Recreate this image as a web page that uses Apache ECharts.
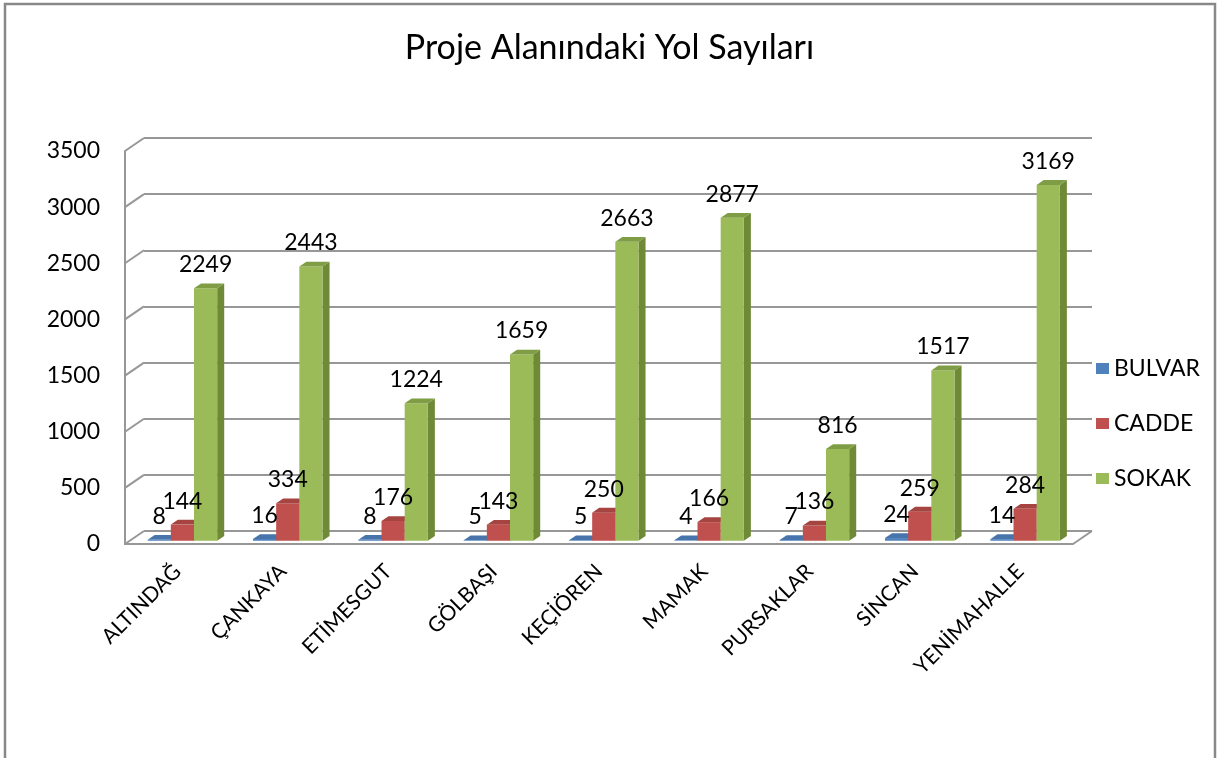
<!DOCTYPE html>
<html>
<head>
<meta charset="utf-8">
<script src="https://cdn.jsdelivr.net/npm/echarts@6/dist/echarts.min.js"></script>
<style>
  html, body { margin: 0; padding: 0; background: #fff; }
  #chart { width: 1219px; height: 758px; }
</style>
</head>
<body>
<div id="chart"></div>
<script>
// District names and road counts per road type
const categories = ['ALTINDAĞ', 'ÇANKAYA', 'ETİMESGUT', 'GÖLBAŞI', 'KEÇİÖREN', 'MAMAK', 'PURSAKLAR', 'SİNCAN', 'YENİMAHALLE'];
const seriesNames = ['BULVAR', 'CADDE', 'SOKAK'];
const bulvar = [8, 16, 8, 5, 5, 4, 7, 24, 14];
const cadde = [144, 334, 176, 143, 250, 166, 136, 259, 284];
const sokak = [2249, 2443, 1224, 1659, 2663, 2877, 816, 1517, 3169];
const yTicks = [0, 500, 1000, 1500, 2000, 2500, 3000, 3500];

const FONT = 'Lato';
// wall depth (front plane -> back plane) in pixels
const DEPTH_X = 19, DEPTH_Y = -13;
const GRID_COLOR = '#979797';

// face colours: front, side, top
const palettes = [
  { front: '#4F81BD', side: '#3A6595', top: '#4674AB' },
  { front: '#C0504D', side: '#8E3A38', top: '#A54441' },
  { front: '#9BBB59', side: '#6F8A36', top: '#7E9D44' }
];

function barRenderer(si) {
  const pal = palettes[si];
  return function (params, api) {
    const cat = api.value(0);
    const val = api.value(1);
    const base = api.coord([cat, 0]);
    const top = api.coord([cat, val]);
    const catW = api.size([1, 0])[0];
    const bw = catW * 0.22;
    const fdx = DEPTH_X * 0.25, fdy = DEPTH_Y * 0.25;
    const ddx = DEPTH_X * 0.37, ddy = DEPTH_Y * 0.37;
    const x0 = base[0] - 1.5 * bw + si * bw + fdx;
    const yb = base[1] + fdy;
    const yt = top[1] + fdy;
    return {
      type: 'group',
      children: [
        {
          type: 'polygon',
          shape: { points: [[x0 + bw, yt], [x0 + bw + ddx, yt + ddy], [x0 + bw + ddx, yb + ddy], [x0 + bw, yb]] },
          style: { fill: pal.side }
        },
        {
          type: 'rect',
          shape: { x: x0, y: yt, width: bw, height: Math.max(yb - yt, 0.5) },
          style: { fill: pal.front }
        },
        {
          type: 'polygon',
          shape: { points: [[x0, yt], [x0 + ddx, yt + ddy], [x0 + bw + ddx, yt + ddy], [x0 + bw, yt]] },
          style: { fill: pal.top }
        },
        {
          type: 'text',
          z2: 100,
          style: {
            x: x0 + bw / 2,
            y: yt - 12,
            text: String(val),
            align: 'center',
            verticalAlign: 'bottom',
            fill: '#000',
            font: '23px ' + FONT
          }
        }
      ]
    };
  };
}

function wallRenderer(params, api) {
  const v = api.value(0);
  const cs = params.coordSys;
  const y = api.coord([0, v])[1];
  const children = [{
    type: 'line',
    shape: { x1: cs.x, y1: y, x2: cs.x + DEPTH_X, y2: y + DEPTH_Y },
    style: { stroke: GRID_COLOR, lineWidth: 2 }
  }];
  if (v === 0) {
    // right edge of the floor
    children.push({
      type: 'line',
      shape: { x1: cs.x + cs.width, y1: y, x2: cs.x + cs.width + DEPTH_X, y2: y + DEPTH_Y },
      style: { stroke: GRID_COLOR, lineWidth: 2 }
    });
  }
  return { type: 'group', children: children };
}

const seriesData = [bulvar, cadde, sokak];

const chart = echarts.init(document.getElementById('chart'), null, { renderer: 'canvas' });

chart.setOption({
  animation: false,
  backgroundColor: '#fff',
  title: {
    text: 'Proje Alanındaki Yol Sayıları',
    left: 'center',
    top: 26,
    textStyle: { fontFamily: FONT, fontSize: 34, fontWeight: 'normal', color: '#000' }
  },
  legend: {
    orient: 'vertical',
    left: 1091,
    top: 352,
    icon: 'rect',
    itemWidth: 13,
    itemHeight: 11,
    itemGap: 32,
    data: seriesNames,
    textStyle: { fontFamily: FONT, fontSize: 23, lineHeight: 22, color: '#000' }
  },
  graphic: [{
    type: 'rect',
    shape: { x: 5, y: 4, width: 1210, height: 800 },
    style: { fill: 'none', stroke: '#888', lineWidth: 2.5 },
    silent: true
  }],
  grid: [
    // back wall
    { left: 144, top: 138, width: 948, height: 393 },
    // front plane
    { left: 125, top: 151, width: 948, height: 393 }
  ],
  xAxis: [
    { gridIndex: 0, type: 'category', data: categories, show: false },
    {
      gridIndex: 1, type: 'category', data: categories,
      axisLine: { show: true, lineStyle: { color: GRID_COLOR, width: 2 } },
      axisTick: { show: false },
      axisLabel: { rotate: 45, margin: 24, interval: 0, fontFamily: FONT, fontSize: 21, color: '#000' }
    }
  ],
  yAxis: [
    {
      gridIndex: 0, type: 'value', min: 0, max: 3500, interval: 500,
      axisLine: { show: false }, axisTick: { show: false }, axisLabel: { show: false },
      splitLine: { show: true, lineStyle: { color: GRID_COLOR, width: 2 } }
    },
    {
      gridIndex: 1, type: 'value', min: 0, max: 3500, interval: 500,
      axisLine: { show: true, lineStyle: { color: GRID_COLOR, width: 2 } },
      axisTick: { show: false },
      splitLine: { show: false },
      axisLabel: { margin: 25, fontFamily: FONT, fontSize: 23, color: '#000', formatter: v => String(v) }
    }
  ],
  series: [
    {
      name: 'wall',
      type: 'custom',
      xAxisIndex: 1, yAxisIndex: 1,
      renderItem: wallRenderer,
      data: yTicks.map(v => [v]),
      silent: true
    }
  ].concat(seriesNames.map((name, si) => ({
    name: name,
    type: 'custom',
    xAxisIndex: 1, yAxisIndex: 1,
    itemStyle: { color: palettes[si].front },
    renderItem: barRenderer(si),
    encode: { x: 0, y: 1 },
    data: seriesData[si].map((v, i) => [i, v])
  })))
});
</script>
</body>
</html>
